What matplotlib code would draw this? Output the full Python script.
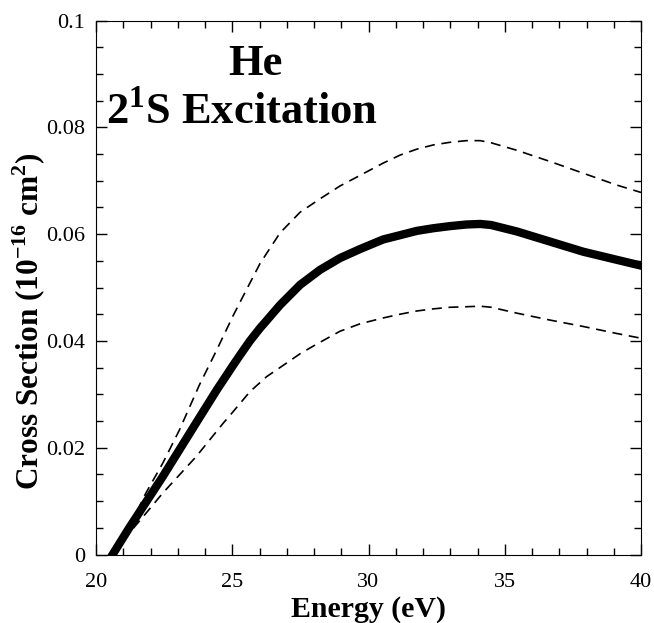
import numpy as np
import matplotlib
matplotlib.use("Agg")
import matplotlib.pyplot as plt
from matplotlib.ticker import MultipleLocator

# He 2^1S excitation cross section (10^-16 cm^2)
e_mid = [20.61, 21.22, 22.45, 23.67, 24.43, 25.04, 25.28, 25.65, 26.02,
         26.26, 26.75, 27.49, 28.22, 28.95, 29.69, 30.54, 31.16, 31.77,
         32.38, 33.0, 33.6, 34.1, 34.5, 35.44, 36.66, 37.88, 39.1, 40.0]
s_mid = [0.0, 0.0050, 0.0146, 0.0246, 0.0308, 0.0355, 0.0373, 0.0400,
         0.0424, 0.0438, 0.0467, 0.0505, 0.0533, 0.0555, 0.0572, 0.0590,
         0.0598, 0.0606, 0.0611, 0.0615, 0.0618, 0.0619, 0.0617, 0.0605,
         0.0586, 0.0567, 0.0552, 0.0541]

e_hi = [20.61, 21.47, 21.83, 22.45, 23.06, 23.79, 24.43, 25.04, 25.28,
        26.02, 26.75, 27.49, 28.22, 28.95, 29.69, 30.54, 31.16, 31.77,
        32.38, 33.0, 33.6, 34.1, 34.5, 35.44, 36.66, 37.88, 39.1, 40.0]
s_hi = [0.0, 0.0077, 0.0115, 0.0171, 0.0233, 0.0317, 0.0383, 0.0448,
        0.0472, 0.0545, 0.0602, 0.0641, 0.0666, 0.0690, 0.0710, 0.0733,
        0.0748, 0.0759, 0.0767, 0.0772, 0.0775, 0.0775, 0.0771, 0.0757,
        0.0736, 0.0714, 0.0692, 0.0678]

e_lo = [20.61, 21.22, 21.83, 22.45, 23.67, 24.67, 25.04, 25.65, 26.26,
        26.75, 27.49, 28.1, 28.95, 29.69, 30.54, 31.16, 31.77, 32.38,
        33.0, 33.6, 34.1, 34.5, 35.44, 36.66, 37.88, 39.1, 40.0]
s_lo = [0.0, 0.0040, 0.0077, 0.0115, 0.0183, 0.0246, 0.0268, 0.0305,
        0.0333, 0.0350, 0.0376, 0.0394, 0.0418, 0.0432, 0.0443, 0.0450,
        0.0456, 0.0460, 0.0463, 0.0464, 0.0465, 0.0463, 0.0452, 0.0439,
        0.0427, 0.0414, 0.0405]

plt.rcParams['font.family'] = ['Liberation Serif', 'DejaVu Serif']
plt.rcParams['mathtext.fontset'] = 'custom'
plt.rcParams['mathtext.rm'] = 'Liberation Serif'
plt.rcParams['mathtext.bf'] = 'Liberation Serif:bold'

fig = plt.figure(figsize=(6.54, 6.23), dpi=100)
ax = fig.add_axes([96/654, 1-554.5/623, (641-96)/654, (554.5-20.5)/623])

ax.plot(e_mid, s_mid, color='black', linewidth=6, solid_joinstyle='round')
ax.plot(e_hi, s_hi, color='black', linewidth=1.2, dashes=(6, 4))
ax.plot(e_lo, s_lo, color='black', linewidth=1.2, dashes=(6, 4))

ax.set_xlim(20, 40)
ax.set_ylim(0, 0.1)
ax.xaxis.set_major_locator(MultipleLocator(5))
ax.xaxis.set_minor_locator(MultipleLocator(1))
ax.yaxis.set_minor_locator(MultipleLocator(0.005))
ax.set_yticks([0, 0.02, 0.04, 0.06, 0.08, 0.1])
ax.set_yticklabels(['0', '0.02', '0.04', '0.06', '0.08', '0.1'])
ax.tick_params(which='both', direction='in', top=True, right=True, labelsize=16)
ax.tick_params(which='major', length=8, width=1)
ax.tick_params(which='minor', length=5, width=1)
ax.tick_params(axis='x', pad=13)
ax.tick_params(axis='y', pad=8)

ax.set_xlabel('Energy (eV)', fontsize=21.5, fontweight='bold', labelpad=3)
ax.set_ylabel(r'Cross Section (10$^{\mathbf{-16}}$ cm$^{\mathbf{2}}$)',
              fontsize=22.5, fontweight='bold')
ax.yaxis.set_label_coords(-0.088, 0.436)

ax.text(0.2917, 0.898, 'He', transform=ax.transAxes, ha='center',
        va='baseline', fontsize=32, fontweight='bold')
ax.text(0.268, 0.806, r'2$^{\mathbf{1}}$S Excitation', transform=ax.transAxes,
        ha='center', va='baseline', fontsize=32, fontweight='bold')

fig.savefig('out.png', dpi=100)
